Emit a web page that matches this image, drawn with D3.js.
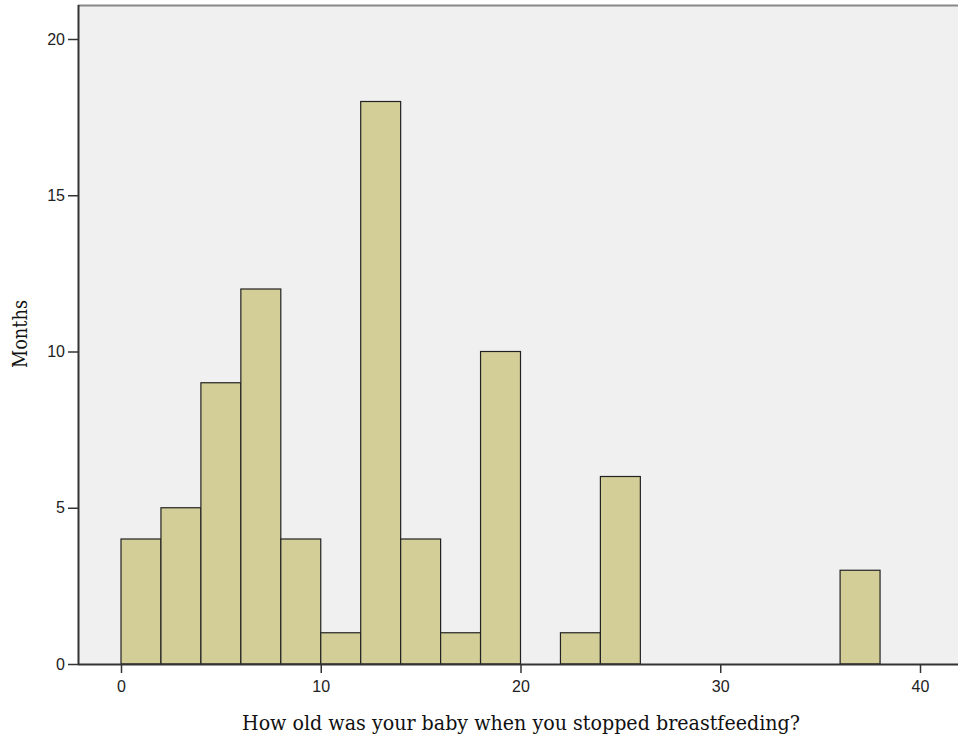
<!DOCTYPE html>
<html><head><meta charset="utf-8">
<script src="https://cdn.jsdelivr.net/npm/d3@7"></script>
<style>body{margin:0;background:#fff}svg{display:block}</style>
</head><body>
<script>
const binStarts = [0,2,4,6,8,10,12,14,16,18,20,22,24,26,28,30,32,34,36];
const counts    = [4,5,9,12,4,1,18,4,1,10,0,1,6,0,0,0,0,0,3];
const binWidth = 2;
const xTicks = [0,10,20,30,40];
const yTicks = [0,5,10,15,20];
const xTitle = "How old was your baby when you stopped breastfeeding?";
const yTitle = "Months";

(function(){
const W = 958, H = 742;
const svg = d3.select("body").append("svg").attr("width", W).attr("height", H);
const pl = 78, pt = 5, pb = 664, pr = 966;
const x = d3.scaleLinear().domain([0,40]).range([121,920]);
const y = d3.scaleLinear().domain([0,20]).range([664,39]);

svg.append("rect").attr("x",pl).attr("y",pt).attr("width",pr-pl).attr("height",pb-pt).attr("fill","#f0f0f0");
svg.append("line").attr("x1",pl).attr("x2",pr).attr("y1",pt+0.5).attr("y2",pt+0.5).attr("stroke","#888").attr("stroke-width",2);

const data = binStarts.map((s,i)=>({s,c:counts[i]})).filter(d=>d.c>0);
svg.append("g").selectAll("rect").data(data).join("rect")
  .attr("x",d=>x(d.s)).attr("y",d=>y(d.c))
  .attr("width",d=>x(d.s+binWidth)-x(d.s)).attr("height",d=>y(0)-y(d.c))
  .attr("fill","#d3ce97").attr("stroke","#222").attr("stroke-width",1.2);

const ya = svg.append("g").attr("transform",`translate(${pl},0)`)
  .call(d3.axisLeft(y).tickValues(yTicks).tickSize(10).tickPadding(3));
ya.select(".domain").attr("d",`M0.5,${pt}V${pb}`).attr("stroke","#333").attr("stroke-width",2);
ya.selectAll(".tick line").attr("stroke","#333").attr("stroke-width",1.5);
ya.selectAll("text").attr("font-family","Liberation Sans, Arial, sans-serif").attr("font-size",16).attr("fill","#222");

const xa = svg.append("g").attr("transform",`translate(0,${pb})`)
  .call(d3.axisBottom(x).tickValues(xTicks).tickSize(9).tickPadding(8));
xa.select(".domain").attr("d",`M${pl},0.5H${pr}`).attr("stroke","#333").attr("stroke-width",2);
xa.selectAll(".tick line").attr("stroke","#333").attr("stroke-width",1.5);
xa.selectAll("text").attr("font-family","Liberation Sans, Arial, sans-serif").attr("font-size",16).attr("fill","#222");

svg.append("text").attr("x",521).attr("y",730).attr("text-anchor","middle")
  .attr("font-family","DejaVu Serif, serif").attr("font-size",20).attr("fill","#111")
  .attr("textLength",558).attr("lengthAdjust","spacingAndGlyphs").text(xTitle);
svg.append("text").attr("transform","translate(27,334) rotate(-90)").attr("text-anchor","middle")
  .attr("font-family","DejaVu Serif, serif").attr("font-size",20).attr("fill","#111")
  .attr("textLength",68).attr("lengthAdjust","spacingAndGlyphs").text(yTitle);
})();
</script>
</body></html>
